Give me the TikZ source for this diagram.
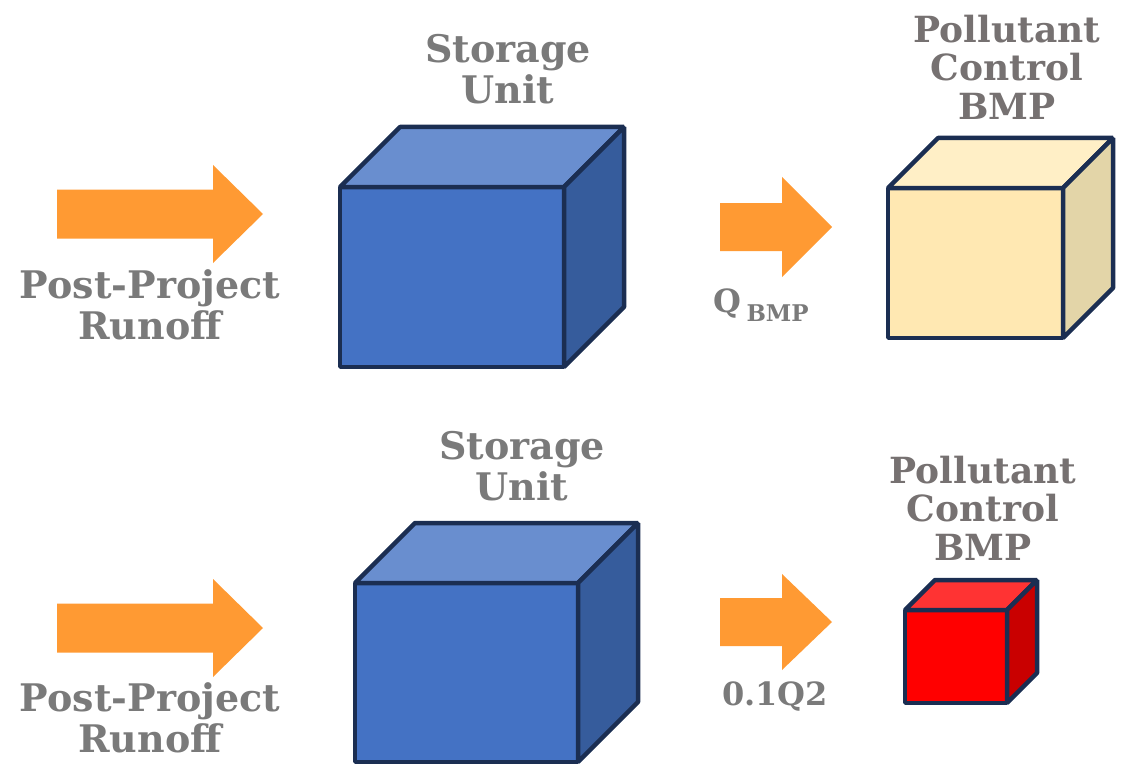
\documentclass[tikz,border=0pt]{standalone}
\usepackage{fontspec}
\setmainfont{DejaVu Serif}
\definecolor{txtgray}{HTML}{7A7A7A}
\definecolor{txtgrayb}{HTML}{767171}
\definecolor{arrorange}{HTML}{FF9A33}
\definecolor{edge}{HTML}{1B2E52}
\definecolor{bluefront}{HTML}{4472C4}
\definecolor{bluetop}{HTML}{698ECF}
\definecolor{blueside}{HTML}{365C9C}
\definecolor{yelfront}{HTML}{FFE8B2}
\definecolor{yeltop}{HTML}{FFEFC6}
\definecolor{yelside}{HTML}{E3D5A8}
\definecolor{redfront}{HTML}{FF0000}
\definecolor{redtop}{HTML}{FF3333}
\definecolor{redside}{HTML}{C90000}
\newcommand{\mycube}[8]{%
  \filldraw[cubeedge,fill=#6] (#1,#2) rectangle (#3,#4);
  \filldraw[cubeedge,fill=#7] (#1,#2) -- ({#1+#5},{#2-#5}) -- ({#3+#5},{#2-#5}) -- (#3,#2) -- cycle;
  \filldraw[cubeedge,fill=#8] (#3,#2) -- ({#3+#5},{#2-#5}) -- ({#3+#5},{#4-#5}) -- (#3,#4) -- cycle;
}
% block arrow: left x, tip x, head base x, centre y, half shaft, half head
\newcommand{\blockarrow}[6]{%
  \fill[arrorange] (#1,{#4-#5}) -- (#3,{#4-#5}) -- (#3,{#4-#6}) -- (#2,#4) -- (#3,{#4+#6}) -- (#3,{#4+#5}) -- (#1,{#4+#5}) -- cycle;
}
\tikzset{
  cubeedge/.style={draw=edge,line width=4.5pt,line join=bevel},
  bigtxt/.style={text=txtgray,font=\bfseries\fontsize{38}{41}\selectfont,align=center,inner sep=0pt},
  bmptxt/.style={text=txtgrayb,font=\bfseries\fontsize{36}{38.5}\selectfont,align=center,inner sep=0pt},
  flowtxt/.style={text=txtgray,font=\bfseries\fontsize{32}{34}\selectfont,inner sep=0pt},
}
\begin{document}
\begin{tikzpicture}[x=1pt,y=-1pt]
\useasboundingbox (0,0) rectangle (1122,765);
% top row
\blockarrow{57}{263}{213}{214}{24.5}{49}
\node[bigtxt] (runoffA) at (150,305) {Post-Project\\Runoff};
\mycube{340}{187}{564}{367}{60}{bluefront}{bluetop}{blueside}
\node[bigtxt] (storA) at (508,69) {Storage\\Unit};
\blockarrow{720}{832}{782}{227}{24}{50}
\node[flowtxt] (qbmp) at (761,305) {Q\,\raisebox{-0.3em}{\fontsize{23}{23}\selectfont BMP}};
\mycube{888}{188}{1063}{338}{50}{yelfront}{yeltop}{yelside}
\node[bmptxt] (bmpA) at (1007,67) {Pollutant\\Control\\BMP};
% bottom row
\blockarrow{57}{263}{213}{628}{24.5}{49}
\node[bigtxt] (runoffB) at (150,718) {Post-Project\\Runoff};
\mycube{355}{583}{578}{762}{60}{bluefront}{bluetop}{blueside}
\node[bigtxt] (storB) at (522,466) {Storage\\Unit};
\blockarrow{720}{832}{782}{622}{24}{48}
\node[flowtxt] (q2) at (775,697) {0.1Q2};
\mycube{905}{610}{1007}{703}{30}{redfront}{redtop}{redside}
\node[bmptxt] (bmpB) at (983,508) {Pollutant\\Control\\BMP};
\end{tikzpicture}
\end{document}
